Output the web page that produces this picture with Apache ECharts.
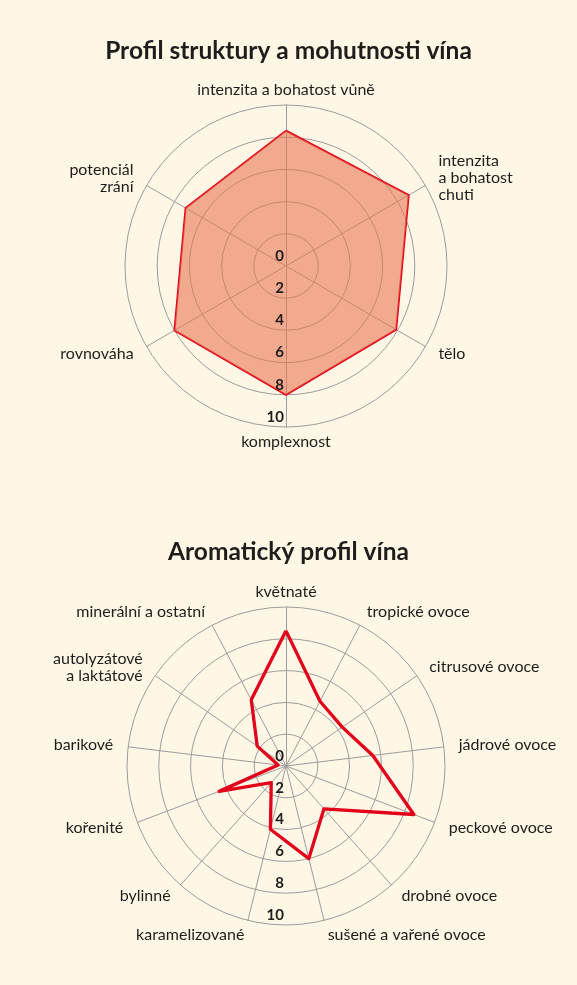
<!DOCTYPE html>
<html>
<head>
<meta charset="utf-8">
<script src="https://cdn.jsdelivr.net/npm/echarts@6/dist/echarts.min.js"></script>
<style>
  html, body { margin: 0; padding: 0; background: #fef7e6; }
  #chart { width: 577px; height: 985px; }
</style>
</head>
<body>
<div id="chart"></div>
<script>
// Profil struktury a mohutnosti vína (clockwise from the top)
const structureNames = [
  'intenzita a bohatost vůně',
  'intenzita\na bohatost\nchuti',
  'tělo',
  'komplexnost',
  'rovnováha',
  'potenciál\nzrání'
];
const structureValues = [8.4, 8.8, 7.9, 8, 8, 7.2];

// Aromatický profil vína (clockwise from the top)
const aromaNames = [
  'květnaté',
  'tropické ovoce',
  'citrusové ovoce',
  'jádrové ovoce',
  'peckové ovoce',
  'drobné ovoce',
  'sušené a vařené ovoce',
  'karamelizované',
  'bylinné',
  'kořenité',
  'barikové',
  'autolyzátové\na laktátové',
  'minerální a ostatní'
];
const aromaValues = [8.5, 4.6, 4.3, 5.5, 8.6, 3.6, 6, 4.1, 1.4, 4.5, 0.5, 2.2, 4.7];

const scaleMin = 0;
const scaleMax = 10;
const scaleStep = 2;

const font = 'Lato';
const gridColor = '#9d9d9d';
const textColor = '#1f1d1c';
const wineRed = '#e2001a';

// echarts lays radar indicators out counter-clockwise, the picture goes clockwise
const toCcw = (arr) => [arr[0]].concat(arr.slice(1).reverse());

const chart = echarts.init(document.getElementById('chart'));

function radarBase(center, radius, names) {
  return {
    center: center,
    radius: radius,
    startAngle: 90,
    shape: 'circle',
    splitNumber: 5,
    indicator: toCcw(names).map(n => ({ name: n, min: scaleMin, max: scaleMax })),
    nameGap: 15,
    axisName: {
      color: textColor,
      fontFamily: font,
      fontSize: 16,
      lineHeight: 17,
      verticalAlign: 'middle'
    },
    splitLine: { lineStyle: { color: gridColor, width: 1 } },
    splitArea: { show: false },
    axisLine: { lineStyle: { color: gridColor, width: 1 } },
    axisTick: { show: false },
    axisLabel: { show: false }
  };
}

// tick labels sit on a vertical line just left of the centre, so a hidden polar axis draws them
function polarBase(center, radius) {
  return { center: center, radius: radius };
}

const tickLabel = {
  show: true,
  color: textColor,
  fontFamily: font,
  fontWeight: 'bold',
  fontSize: 15,
  align: 'right',
  margin: 3
};

function tickAxis(idx) {
  return {
    polarIndex: idx, type: 'value', min: scaleMin, max: scaleMax, interval: scaleStep,
    axisLine: { show: false }, axisTick: { show: false }, splitLine: { show: false },
    axisLabel: tickLabel, z: 10
  };
}

const option = {
  backgroundColor: '#fef7e6',
  animation: false,
  title: [
    {
      text: 'Profil struktury a mohutnosti vína',
      left: 'center',
      top: 34,
      textStyle: { fontFamily: font, fontWeight: 'bold', fontSize: 24.5, color: textColor }
    },
    {
      text: 'Aromatický profil vína',
      left: 'center',
      top: 535,
      textStyle: { fontFamily: font, fontWeight: 'bold', fontSize: 24.5, color: textColor }
    }
  ],
  radar: [
    radarBase([286, 266], 161, structureNames),
    radarBase([286, 766], 159, aromaNames)
  ],
  polar: [
    polarBase([281, 256], 161),
    polarBase([281, 756], 159)
  ],
  angleAxis: [
    { polarIndex: 0, type: 'value', min: 0, max: 360, startAngle: 270, show: false },
    { polarIndex: 1, type: 'value', min: 0, max: 360, startAngle: 270, show: false }
  ],
  radiusAxis: [tickAxis(0), tickAxis(1)],
  series: [
    {
      type: 'radar',
      radarIndex: 0,
      symbol: 'none',
      lineStyle: { color: wineRed, width: 2 },
      // keep the grid visible through the fill
      areaStyle: { color: 'rgba(232, 118, 82, 0.6)', opacity: 1 },
      data: [{ value: toCcw(structureValues), name: 'struktura' }]
    },
    {
      type: 'radar',
      radarIndex: 1,
      symbol: 'none',
      lineStyle: { color: wineRed, width: 3.3 },
      data: [{ value: toCcw(aromaValues), name: 'aroma' }]
    }
  ]
};

chart.setOption(option);
</script>
</body>
</html>
